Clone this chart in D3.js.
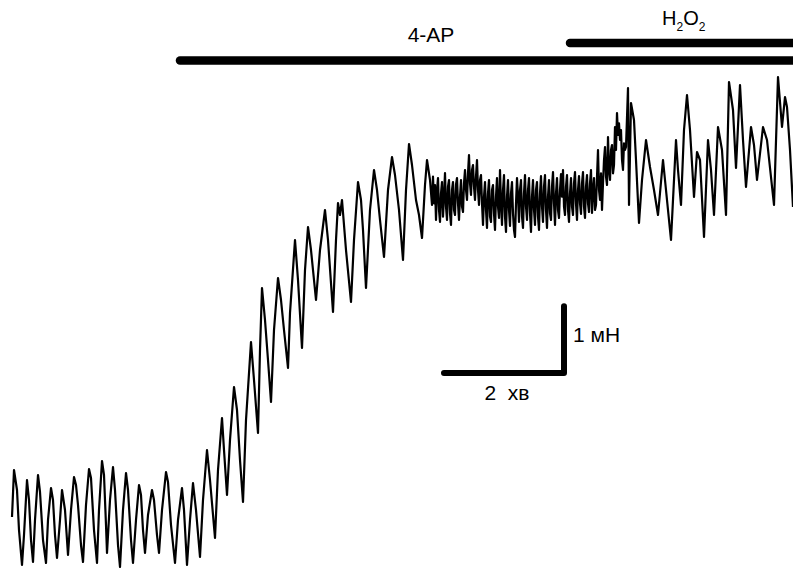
<!DOCTYPE html>
<html><head><meta charset="utf-8">
<script src="https://cdn.jsdelivr.net/npm/d3@7/dist/d3.min.js"></script>
<style>html,body{margin:0;padding:0;background:#fff;overflow:hidden}</style>
</head><body>
<svg id="chart" width="793" height="568"></svg>
<script>
// time in seconds, force in µN
const phaseBaseline = [[0,795],[2,1500],[5,1200],[7,600],[10,75],[12,525],[15,1350],[17,1050],[19,450],[21,120],[23,750],[26,1425],[28,1170],[31,450],[34,105],[36,750],[39,1230],[41,1050],[43,525],[45,180],[48,750],[50,1200],[53,900],[56,225],[59,900],[62,1395],[64,1275],[66,975],[69,375],[71,120],[74,975],[77,1515],[79,1380],[82,600],[85,105],[87,900],[90,1635],[92,1425],[94,675],[95,255],[98,1050],[101,1545],[103,1200],[106,375],[108,45],[111,900],[114,1455],[116,1200],[119,450],[121,105],[124,750],[127,1275],[129,1125],[131,600],[133,255],[136,825],[140,1200],[142,1050],[145,525],[147,255],[150,900],[154,1470],[156,1320],[159,675],[163,105],[166,750],[170,1230],[172,900],[175,75],[178,750],[181,1305],[184,900],[188,195]];
const phase4AP = [[191,1050],[195,1800],[198,1350],[203,480],[206,1500],[210,2280],[212,1800],[215,1125],[218,1950],[222,2745],[225,2400],[228,1650],[231,1020],[234,2250],[239,3420],[242,2850],[246,2055],[248,3300],[250,4230],[253,3750],[256,3150],[259,2520],[262,3600],[266,4380],[269,4050],[272,3600],[276,3030],[278,3855],[283,4950],[286,4350],[290,3330],[293,4500],[296,5145],[299,4800],[301,4500],[304,4050],[308,4800],[313,5400],[316,4950],[321,3870],[324,4950],[326,5505],[328,5325],[330,5550],[334,4800],[339,4020],[342,4950],[346,5820],[349,5550],[351,5100],[354,4230],[358,5400],[362,6000],[365,5700],[368,5250],[372,4695],[376,5700],[380,6195],[383,5925],[387,5400],[391,4650],[394,5700],[397,6390],[400,6075],[404,5550],[407,5325],[410,4980],[413,5775],[415,6150],[418,5850]];
const phasePlateau = [[420,5475],[421,5900],[422,5500],[423,5775],[424,5250],[425,5700],[426,5880],[427,5400],[428,5220],[429,5650],[430,5820],[431,5300],[432,5600],[433,5955],[434,5450],[435,5250],[436,5750],[437,5850],[438,5350],[439,5175],[440,5700],[441,5820],[442,5400],[443,5325],[444,5780],[445,5880],[446,5500],[447,5250],[448,5600],[449,5850],[450,5450],[451,5370],[452,5800],[453,6000],[454,5700],[455,5550],[456,5950],[457,6225],[458,5800],[459,5625],[460,6000],[461,6075],[462,5750],[463,5550],[464,5900],[465,6150],[466,5700],[467,5475],[468,5850],[469,5925],[470,5500],[471,5175],[472,5600],[473,5820],[474,5400],[475,5130],[476,5650],[477,5850],[478,5300],[479,5220],[480,5700],[481,5775],[482,5350],[483,5100],[484,5600],[485,5880],[486,5450],[487,5280],[488,6000],[489,5500],[490,5175],[491,5700],[492,5925],[493,5300],[494,5070],[495,5600],[496,5850],[497,5400],[498,5160],[499,5650],[500,5820],[501,5350],[502,5100],[503,4995],[504,5500],[505,5880],[506,5600],[507,5220],[508,5700],[509,5850],[510,5300],[511,5130],[512,5650],[513,5925],[514,5450],[515,5250],[516,5700],[517,5880],[518,5350],[519,5070],[520,5600],[521,5850],[522,5400],[523,5175],[524,5700],[525,5820],[526,5300],[527,5100],[528,5650],[529,5910],[530,5450],[531,5220],[532,5750],[533,5925],[534,5400],[535,5130],[536,5600],[537,5850],[538,5350],[539,5250],[540,5750],[541,5970],[542,5500],[543,5175],[544,5650],[545,5880],[546,5400],[547,5280],[548,5700],[549,5940],[550,5600],[551,6000],[552,5450],[553,5325],[554,5750],[555,5925],[556,5400],[557,5220],[558,5650],[559,5880],[560,5450],[561,5325],[562,5800],[563,5970],[564,5500],[565,5250],[566,5700],[567,5910],[568,5500],[569,5340],[570,5800],[571,5970],[572,5450],[573,5280],[574,5750],[575,5925],[576,5500],[577,5370],[578,5800],[579,6000]];
const phaseH2O2 = [[580,5355],[581,5700],[582,5880],[583,5400],[584,5475],[585,5900],[586,6300],[587,5700],[588,5550],[589,5950],[590,5400],[591,5800],[592,6150],[593,6345],[594,5900],[595,5775],[596,6495],[597,6000],[598,5850],[599,6300],[600,6375],[601,5950],[602,6075],[603,6645],[604,6300],[605,6855],[606,6525],[607,6700],[608,6450],[609,6600],[610,6150],[611,6000],[612,6400],[613,6300],[614,6345],[616,7230],[617,5475],[619,7005],[622,6750],[624,6150],[627,5205],[630,5850],[634,6450],[638,6045],[642,5700],[646,5325],[651,6150],[654,5700],[659,4950],[662,5850],[664,6450],[666,6000],[669,5475],[672,6600],[675,7125],[678,6600],[682,5595],[685,6270],[688,6150],[692,4995],[696,6450],[699,6000],[702,5325],[706,6645],[710,6300],[714,5325],[717,7320],[721,6900],[724,6030],[728,7275],[731,6450],[734,5745],[739,6645],[742,6375],[745,5850],[751,6645],[755,6450],[762,5475],[766,7395],[770,6645],[773,7095],[775,6945],[778,6300],[781,5445]];

const treatments = [
  {label: "4-AP", start: 168, row: 0},
  {label: "H2O2", start: 558, row: 1}
];
const scaleBarTime = 120;   // s  -> "2 хв"
const scaleBarForce = 1000; // µN -> "1 мН"
const scaleBarCorner = [552, 2955];

const svg = d3.select("#chart");
const W = 793, H = 568;
const x = d3.scaleLinear().domain([0, 781]).range([12, 793]);
const y = d3.scaleLinear().domain([0, 7500]).range([570, 70]);

const trace = [].concat(phaseBaseline, phase4AP, phasePlateau, phaseH2O2);
const line = d3.line().x(d => x(d[0])).y(d => y(d[1]));
svg.append("path").datum(trace)
  .attr("d", line).attr("fill", "none").attr("stroke", "#000")
  .attr("stroke-width", 2.2).attr("stroke-linejoin", "round");

// treatment bars
const rowY = [60.5, 43];
treatments.forEach(t => {
  svg.append("line")
    .attr("x1", x(t.start)).attr("x2", W + 20)
    .attr("y1", rowY[t.row]).attr("y2", rowY[t.row])
    .attr("stroke", "#000").attr("stroke-width", 8.5).attr("stroke-linecap", "round");
});
const font = "'Liberation Sans', Arial, sans-serif";
svg.append("text").attr("x", 431).attr("y", 42).attr("text-anchor", "middle")
  .attr("font-family", font).attr("font-size", 21).text("4-AP");
const h = svg.append("text").attr("x", 662).attr("y", 25)
  .attr("font-family", font).attr("font-size", 20);
h.append("tspan").text("H");
h.append("tspan").attr("font-size", 12).attr("dy", 6).text("2");
h.append("tspan").attr("dy", -6).text("O");
h.append("tspan").attr("font-size", 12).attr("dy", 6).text("2");

// scale bar
const cx = x(scaleBarCorner[0]), cy = y(scaleBarCorner[1]);
svg.append("path")
  .attr("d", `M${x(scaleBarCorner[0] - scaleBarTime)},${cy}L${cx},${cy}L${cx},${y(scaleBarCorner[1] + scaleBarForce)}`)
  .attr("fill", "none").attr("stroke", "#000").attr("stroke-width", 6)
  .attr("stroke-linecap", "round").attr("stroke-linejoin", "round");
svg.append("text").attr("x", cx + 9).attr("y", cy - 31)
  .attr("font-family", font).attr("font-size", 21).text("1 мН");
svg.append("text").attr("x", x(scaleBarCorner[0] - scaleBarTime / 2) + 3).attr("y", cy + 27)
  .attr("text-anchor", "middle").attr("font-family", font).attr("font-size", 21)
  .attr("xml:space", "preserve").text("2  хв");
</script>
</body></html>
